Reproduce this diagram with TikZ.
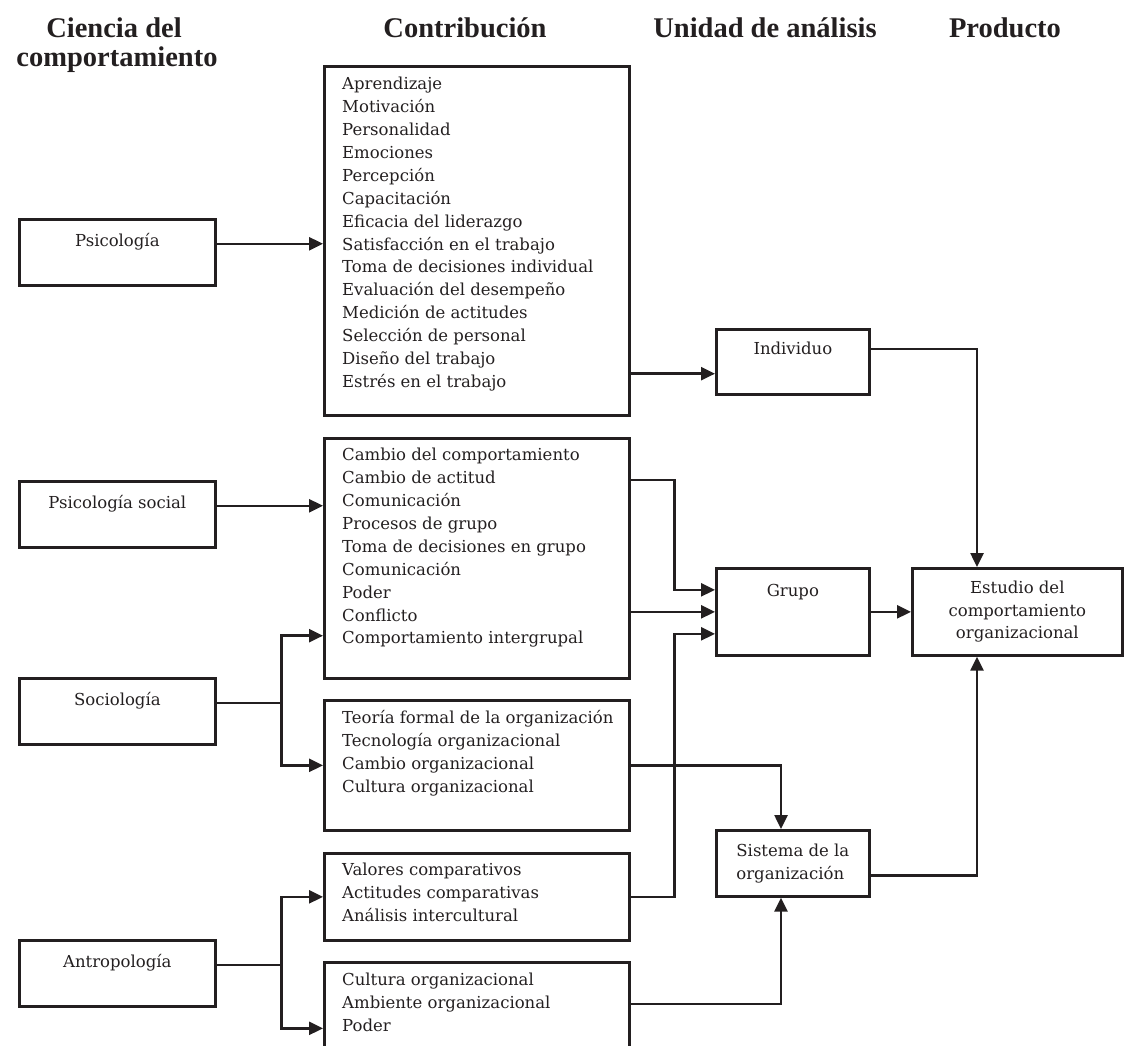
\documentclass[tikz,border=0pt]{standalone}
\usepackage{fontspec}
\setmainfont{DejaVu Serif}
\newfontfamily\headfont{Liberation Serif}
\usetikzlibrary{arrows.meta,calc}
\definecolor{ink}{HTML}{231F20}
\begin{document}
\begin{tikzpicture}[x=1pt,y=-1pt,
  every node/.style={text=ink},
  frame/.style={draw=ink, line width=2.7pt, rectangle, inner sep=0pt, anchor=north west, font=\fontsize{16.5}{22.9}\selectfont},
  listtext/.style={anchor=north west, inner sep=0pt, align=left, font=\fontsize{16.5}{22.9}\selectfont},
  head/.style={anchor=base, inner sep=0pt, font=\headfont\bfseries\fontsize{28.5}{29}\selectfont},
  link/.style={draw=ink, line width=2.5pt},
  arr/.style={link, -{Triangle[length=14pt,width=13pt]}},
]
\useasboundingbox (0,0) rectangle (1125,1045);
\clip (0,0) rectangle (1125,1045);

% headers
\node[head] (h1a) at (114,37) {Ciencia del};
\node[head] (h1b) at (117,66) {comportamiento};
\node[head] (h2) at (465,37) {Contribución};
\node[head] (h3) at (765,37) {Unidad de análisis};
\node[head] (h4) at (1005,37) {Producto};

% behavioural sciences
\node[frame, minimum width=196pt, minimum height=66pt, text height=27pt, text depth=39pt] (psi) at (18,218) {Psicología};
\node[frame, minimum width=196pt, minimum height=66pt, text height=27pt, text depth=39pt] (psis) at (18,480) {Psicología social};
\node[frame, minimum width=196pt, minimum height=66pt, text height=27pt, text depth=39pt] (soc) at (18,677) {Sociología};
\node[frame, minimum width=196pt, minimum height=66pt, text height=27pt, text depth=39pt] (ant) at (18,939) {Antropología};

% contribution boxes
\node[frame, minimum width=305pt, minimum height=349pt] (c1) at (323,65) {};
\node[listtext] (t1) at (342,77) {Aprendizaje\\Motivación\\Personalidad\\Emociones\\Percepción\\Capacitación\\Eficacia del liderazgo\\Satisfacción en el trabajo\\Toma de decisiones individual\\Evaluación del desempeño\\Medición de actitudes\\Selección de personal\\Diseño del trabajo\\Estrés en el trabajo};
\node[frame, minimum width=305pt, minimum height=240pt] (c2) at (323,437) {};
\node[listtext] (t2) at (342,448) {Cambio del comportamiento\\Cambio de actitud\\Comunicación\\Procesos de grupo\\Toma de decisiones en grupo\\Comunicación\\Poder\\Conflicto\\Comportamiento intergrupal};
\node[frame, minimum width=305pt, minimum height=130pt] (c3) at (323,699) {};
\node[listtext] (t3) at (342,710) {Teoría formal de la organización\\Tecnología organizacional\\Cambio organizacional\\Cultura organizacional};
\node[frame, minimum width=305pt, minimum height=87pt] (c4) at (323,852) {};
\node[listtext] (t4) at (342,863) {Valores comparativos\\Actitudes comparativas\\Análisis intercultural};
\node[frame, minimum width=305pt, minimum height=132pt] (c5) at (323,961) {};
\node[listtext] (t5) at (342,973) {Cultura organizacional\\Ambiente organizacional\\Poder};

% units of analysis
\node[frame, minimum width=153pt, minimum height=65pt, text height=25pt, text depth=40pt] (ind) at (715,328) {Individuo};
\node[frame, minimum width=153pt, minimum height=87pt, text height=28pt, text depth=59pt] (grp) at (715,567) {Grupo};
\node[frame, minimum width=153pt, minimum height=66pt, align=left] (sis) at (715,829) {Sistema de la\\organización};

% product
\node[frame, minimum width=210pt, minimum height=87pt, align=center, font=\fontsize{16.5}{22.5}\selectfont] (est) at (911,567) {Estudio del\\comportamiento\\organizacional};

% connectors: sciences -> contributions
\draw[arr] (psi.mid east) -- (psi.mid east -| c1.west);
\draw[arr] (psis.mid east) -- (psis.mid east -| c2.west);
\draw[link] (soc.mid east) -- ++(65,0) coordinate (sj);
\draw[arr] (sj) |- ($(c2.south west)+(0,-44)$);
\draw[arr] (sj) |- (c3.west);
\draw[link] (ant.mid east) -- ++(65,0) coordinate (aj);
\draw[arr] (aj) |- (c4.west);
\draw[arr] (aj) |- (c5.west);

% contributions -> units
\coordinate (indin) at ($(ind.south west)+(0,-22)$);
\draw[arr] (c1.east |- indin) -- (indin);
\draw[arr] ($(c2.north east)+(0,43)$) -- ++(44,0) |- ($(grp.west)+(0,-22)$);
\draw[arr] (grp.west -| c2.east) -- (grp.west);
\draw[arr] (c4.east) -- ++(44,0) |- ($(grp.west)+(0,22)$);
\draw[arr] (c3.east) -| ($(sis.north west)+(66,0)$);
\draw[arr] ($(c5.north east)+(0,43)$) -| ($(sis.south west)+(66,0)$);

% units -> product
\draw[arr] (grp.east) -- (grp.east -| est.west);
\draw[arr] ($(ind.north east)+(0,21)$) -| ($(est.north west)+(66,0)$);
\draw[arr] ($(sis.east)+(0,12)$) -| ($(est.south west)+(66,0)$);
\end{tikzpicture}
\end{document}
